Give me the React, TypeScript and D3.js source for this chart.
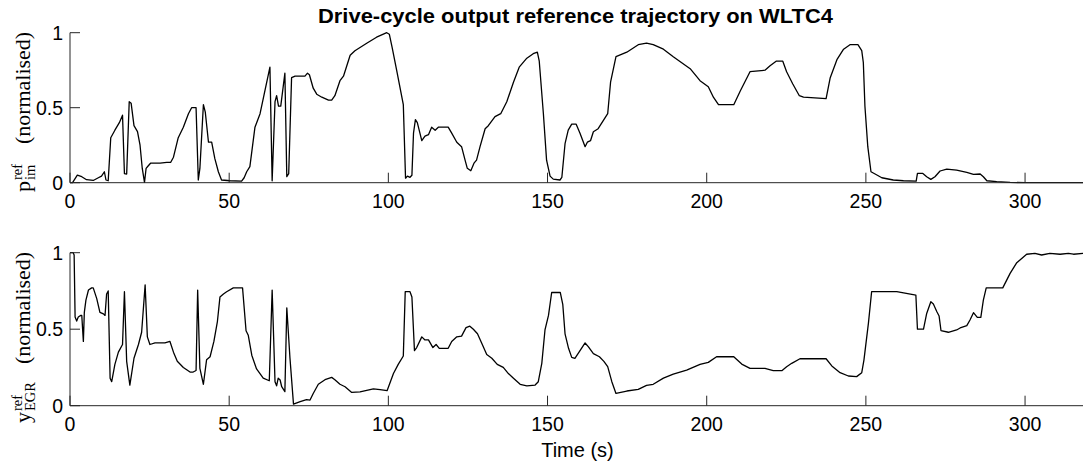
import React from 'react';
import * as d3 from 'd3';

const TITLE = 'Drive-cycle output reference trajectory on WLTC4';
const X_LABEL = 'Time (s)';
const TIME_TICKS = [0, 50, 100, 150, 200, 250, 300];
const Y_TICKS = [0, 0.5, 1];
const Y_TICK_LABELS = ['0', '0.5', '1'];
const TIME_DOMAIN: [number, number] = [0, 318.2];

// p_im^ref (normalised) : [time s, value]
const pImRef: [number, number][] = [
  [0, 0], [0.8, 0], [2.3, 0.05], [3.7, 0.04], [5.2, 0.02], [7.3, 0.015], [8.9, 0.033], [9.9, 0.044],
  [10.8, 0.073], [11.3, 0.018], [12.0, 0.013], [12.8, 0.30], [14.1, 0.35], [15.5, 0.40], [16.5, 0.45],
  [17.1, 0.06], [17.8, 0.058], [18.6, 0.54], [19.2, 0.53], [20.1, 0.38], [21.2, 0.34], [22.0, 0.25],
  [22.7, 0.095], [23.4, 0.002], [23.9, 0.095], [24.6, 0.113], [25.3, 0.13], [28.3, 0.13], [30.4, 0.135],
  [31.6, 0.135], [32.5, 0.17], [34.0, 0.30], [35.6, 0.37], [37.2, 0.46], [38.2, 0.50], [39.6, 0.50],
  [40.3, 0.018], [40.8, 0.095], [41.9, 0.52], [42.5, 0.47], [43.5, 0.27], [44.5, 0.27], [45.5, 0.16],
  [46.6, 0.073], [47.6, 0.018], [50.3, 0.013], [53.9, 0.01], [54.7, 0.033], [55.5, 0.073], [56.5, 0.107],
  [58.1, 0.37], [59.7, 0.46], [60.9, 0.58], [62.8, 0.77], [63.5, 0.013], [64.4, 0.54], [64.9, 0.58],
  [65.5, 0.51], [66.2, 0.51], [67.5, 0.73], [68.1, 0.04], [68.7, 0.06], [69.6, 0.70], [70.7, 0.71],
  [73.8, 0.71], [74.6, 0.73], [75.2, 0.72], [76.4, 0.63], [77.5, 0.59], [79.1, 0.57], [81.2, 0.55],
  [82.2, 0.55], [83.2, 0.58], [84.8, 0.68], [85.9, 0.71], [88.0, 0.85], [89.5, 0.88], [93.2, 0.93],
  [96.3, 0.97], [99.5, 1.0], [100.3, 0.99], [101.2, 0.90], [102.6, 0.75], [104.7, 0.52], [105.4, 0.03],
  [106.0, 0.044], [106.8, 0.036], [107.4, 0.05], [107.9, 0.33], [108.5, 0.42], [109.1, 0.40], [110.5, 0.28],
  [111.5, 0.31], [112.6, 0.32], [113.6, 0.37], [114.7, 0.35], [115.7, 0.37], [118.8, 0.37], [119.9, 0.33],
  [121.5, 0.27], [123.0, 0.24], [124.1, 0.15], [124.8, 0.096], [125.9, 0.08], [126.9, 0.13], [127.7, 0.15],
  [128.8, 0.24], [130.4, 0.36], [131.4, 0.38], [133.5, 0.44], [135.3, 0.46], [137.2, 0.54], [139.3, 0.67],
  [141.1, 0.77], [143.5, 0.83], [145.5, 0.86], [146.8, 0.87], [147.4, 0.81], [148.7, 0.46], [149.7, 0.15],
  [150.8, 0.044], [151.8, 0.024], [153.9, 0.018], [154.5, 0.036], [155.5, 0.26], [156.5, 0.35], [157.6, 0.39],
  [159.0, 0.39], [160.2, 0.33], [161.8, 0.24], [162.5, 0.27], [163.5, 0.28], [164.4, 0.34], [165.9, 0.36],
  [167.7, 0.42], [168.9, 0.46], [169.8, 0.67], [171.5, 0.84], [174.9, 0.87], [178.5, 0.92], [181.1, 0.93],
  [183.2, 0.92], [186.4, 0.89], [189.5, 0.84], [194.8, 0.76], [197.9, 0.68], [200.5, 0.64], [202.1, 0.57],
  [203.7, 0.52], [208.5, 0.52], [210.5, 0.61], [213.6, 0.74], [218.3, 0.75], [219.9, 0.78], [221.8, 0.81],
  [223.9, 0.81], [225.1, 0.74], [227.0, 0.66], [229.1, 0.58], [230.4, 0.57], [237.5, 0.56], [238.8, 0.70],
  [240.9, 0.82], [243.0, 0.89], [245.0, 0.92], [247.5, 0.92], [248.7, 0.88], [249.2, 0.80], [249.7, 0.51],
  [250.6, 0.24], [251.6, 0.073], [252.9, 0.058], [255.0, 0.033], [258.6, 0.018], [261.8, 0.013], [265.8, 0.011],
  [266.2, 0.062], [267.9, 0.062], [269.1, 0.04], [270.4, 0.022], [271.7, 0.04], [273.3, 0.078], [275.4, 0.091],
  [278.5, 0.084], [281.7, 0.069], [283.8, 0.056], [285.9, 0.058], [286.9, 0.04], [288.0, 0.013], [291.1, 0.007],
  [295.3, 0.002], [300, 0], [318.2, 0],
];

// y_EGR^ref (normalised) : [time s, value]
const yEgrRef: [number, number][] = [
  [0, 1.0], [1.0, 1.0], [1.3, 0.985], [1.6, 0.58], [2.1, 0.553], [2.6, 0.58], [3.4, 0.59], [3.7, 0.59],
  [4.2, 0.42], [4.5, 0.61], [5.0, 0.69], [5.8, 0.756], [6.8, 0.77], [7.3, 0.77], [8.4, 0.70], [9.4, 0.61],
  [10.5, 0.60], [11.0, 0.59], [11.5, 0.73], [12.0, 0.75], [12.6, 0.18], [13.1, 0.157], [14.1, 0.27],
  [15.2, 0.35], [16.5, 0.40], [17.1, 0.745], [17.8, 0.29], [18.8, 0.135], [20.1, 0.31], [21.5, 0.40],
  [22.5, 0.48], [23.6, 0.79], [24.3, 0.45], [25.1, 0.40], [26.7, 0.41], [29.8, 0.41], [31.4, 0.42],
  [32.5, 0.35], [33.7, 0.29], [35.6, 0.25], [37.7, 0.22], [38.7, 0.22], [39.6, 0.23], [40.1, 0.756],
  [40.8, 0.244], [41.9, 0.14], [42.9, 0.30], [44.0, 0.32], [45.2, 0.42], [46.3, 0.55], [47.1, 0.71],
  [48.2, 0.73], [49.2, 0.745], [51.3, 0.77], [54.2, 0.77], [55.3, 0.49], [56.0, 0.46], [57.1, 0.33],
  [58.6, 0.24], [60.7, 0.18], [62.6, 0.163], [63.5, 0.756], [64.4, 0.157], [64.9, 0.13], [65.4, 0.18],
  [66.0, 0.168], [66.5, 0.124], [67.5, 0.092], [68.1, 0.64], [69.1, 0.31], [70.2, 0.01], [72.3, 0.026],
  [74.3, 0.04], [75.4, 0.037], [76.4, 0.08], [78.0, 0.14], [80.1, 0.17], [82.2, 0.185], [83.2, 0.17],
  [84.8, 0.14], [86.4, 0.124], [88.5, 0.087], [91.1, 0.09], [95.3, 0.11], [97.4, 0.105], [99.6, 0.098],
  [101.6, 0.21], [103.1, 0.27], [104.7, 0.325], [105.3, 0.745], [106.8, 0.745], [107.4, 0.71], [108.2, 0.36],
  [108.9, 0.38], [110.5, 0.45], [111.5, 0.43], [112.6, 0.43], [114.0, 0.38], [115.0, 0.40], [116.0, 0.375],
  [118.8, 0.375], [119.9, 0.42], [121.5, 0.45], [123.0, 0.455], [124.4, 0.51], [125.6, 0.52], [126.7, 0.50],
  [128.0, 0.47], [129.3, 0.41], [130.9, 0.335], [132.5, 0.31], [134.2, 0.27], [136.1, 0.25], [137.7, 0.21],
  [139.3, 0.18], [141.4, 0.14], [143.5, 0.13], [146.1, 0.135], [147.1, 0.157], [148.2, 0.277], [149.2, 0.495],
  [150.3, 0.59], [151.3, 0.74], [154.0, 0.74], [154.8, 0.66], [155.5, 0.47], [156.6, 0.375], [157.6, 0.316],
  [158.6, 0.31], [160.0, 0.353], [161.8, 0.41], [162.8, 0.386], [164.4, 0.34], [166.3, 0.32], [167.7, 0.29],
  [168.9, 0.255], [170.2, 0.157], [171.5, 0.08], [174.9, 0.096], [178.5, 0.107], [181.1, 0.133], [183.2, 0.14],
  [186.4, 0.18], [189.5, 0.207], [193.7, 0.233], [197.9, 0.27], [200.5, 0.283], [203.1, 0.32], [208.5, 0.32],
  [211.0, 0.272], [213.6, 0.244], [218.3, 0.244], [220.9, 0.229], [223.6, 0.229], [225.1, 0.255], [226.7, 0.277],
  [229.3, 0.307], [237.5, 0.307], [239.3, 0.26], [241.9, 0.216], [244.5, 0.194], [247.1, 0.19], [248.7, 0.216],
  [249.4, 0.30], [250.8, 0.54], [251.8, 0.745], [259.7, 0.745], [265.7, 0.723], [266.2, 0.50], [268.1, 0.50],
  [269.1, 0.603], [270.4, 0.68], [271.2, 0.665], [272.3, 0.614], [273.0, 0.586], [273.6, 0.49], [275.9, 0.48],
  [278.5, 0.495], [279.6, 0.508], [281.7, 0.523], [282.7, 0.56], [283.8, 0.608], [285.0, 0.577], [286.1, 0.577],
  [286.9, 0.69], [287.8, 0.77], [293.0, 0.77], [295.3, 0.865], [297.4, 0.935], [300.5, 0.99], [303.1, 0.996],
  [305.2, 0.985], [307.8, 0.996], [311.0, 0.99], [313.6, 0.996], [315.2, 0.99], [318.2, 0.996],
];

const W = 1083;
const H = 468;
const LEFT = 70;
const RIGHT = 1083;
const AXIS_COLOR = '#262626';
const SANS = '"Liberation Sans", Arial, Helvetica, sans-serif';
const SERIF = '"Liberation Serif", "Times New Roman", serif';

const xScale = d3.scaleLinear().domain(TIME_DOMAIN).range([LEFT, RIGHT]);

type PanelProps = {
  data: [number, number][];
  top: number;
  bottom: number;
  label: React.ReactNode;
};

function Panel({ data, top, bottom, label }: PanelProps) {
  const y = d3.scaleLinear().domain([0, 1]).range([bottom, top]);
  const line = d3
    .line<[number, number]>()
    .x((d) => xScale(d[0]))
    .y((d) => y(d[1]));
  return (
    <g>
      <path d={line(data) || ''} fill="none" stroke="#000" strokeWidth={1.3} strokeLinejoin="round" />
      {/* axes lines */}
      <line x1={LEFT} x2={LEFT} y1={y(1)} y2={y(0)} stroke={AXIS_COLOR} strokeWidth={1} />
      <line x1={LEFT} x2={RIGHT} y1={y(0)} y2={y(0)} stroke={AXIS_COLOR} strokeWidth={1} />
      {TIME_TICKS.map((t) => (
        <g key={'xt' + t}>
          <line x1={xScale(t)} x2={xScale(t)} y1={y(0)} y2={y(0) - 10} stroke={AXIS_COLOR} strokeWidth={1} />
          <text x={xScale(t)} y={y(0) + 25} textAnchor="middle" fontFamily={SANS} fontSize={19.5} fill="#000">
            {String(t)}
          </text>
        </g>
      ))}
      {Y_TICKS.map((v, i) => (
        <g key={'yt' + v}>
          <line x1={LEFT} x2={LEFT + 10} y1={y(v)} y2={y(v)} stroke={AXIS_COLOR} strokeWidth={1} />
          <text x={63} y={y(v) + 7} textAnchor="end" fontFamily={SANS} fontSize={19.5} fill="#000">
            {Y_TICK_LABELS[i]}
          </text>
        </g>
      ))}
      {label}
    </g>
  );
}

function YLabel({ base, sym, sub, start, normStart }: { base: number; sym: string; sub: string; start: number; normStart: number }) {
  return (
    <g transform={`translate(30, ${start}) rotate(-90)`} fontFamily={SERIF} fill="#000">
      <text x={0} y={0} fontSize={22}>{sym}</text>
      <text x={12} y={-8} fontSize={14.5}>ref</text>
      <text x={12} y={5} fontSize={14.5}>{sub}</text>
      <text x={normStart} y={0} fontSize={22} textLength={112} lengthAdjust="spacingAndGlyphs">(normalised)</text>
    </g>
  );
}

export default function App() {
  return (
    <svg
      width={W}
      height={H}
      viewBox={`0 0 ${W} ${H}`}
      style={{ position: 'absolute', left: 0, top: 0, background: '#fff', display: 'block' }}
    >
      <rect x={0} y={0} width={W} height={H} fill="#fff" />
      <text x={575.5} y={22.7} textAnchor="middle" fontFamily={SANS} fontWeight="bold" fontSize={19.5} textLength={515} lengthAdjust="spacingAndGlyphs" fill="#000">
        {TITLE}
      </text>
      <Panel
        data={pImRef}
        top={32.7}
        bottom={182.7}
        label={<YLabel base={0} sym="p" sub="im" start={192} normStart={48} />}
      />
      <Panel
        data={yEgrRef}
        top={252.7}
        bottom={405.7}
        label={<YLabel base={0} sym="y" sub="EGR" start={423} normStart={59} />}
      />
      <text x={577.5} y={456.7} textAnchor="middle" fontFamily={SANS} fontSize={20} fill="#000">
        {X_LABEL}
      </text>
    </svg>
  );
}
